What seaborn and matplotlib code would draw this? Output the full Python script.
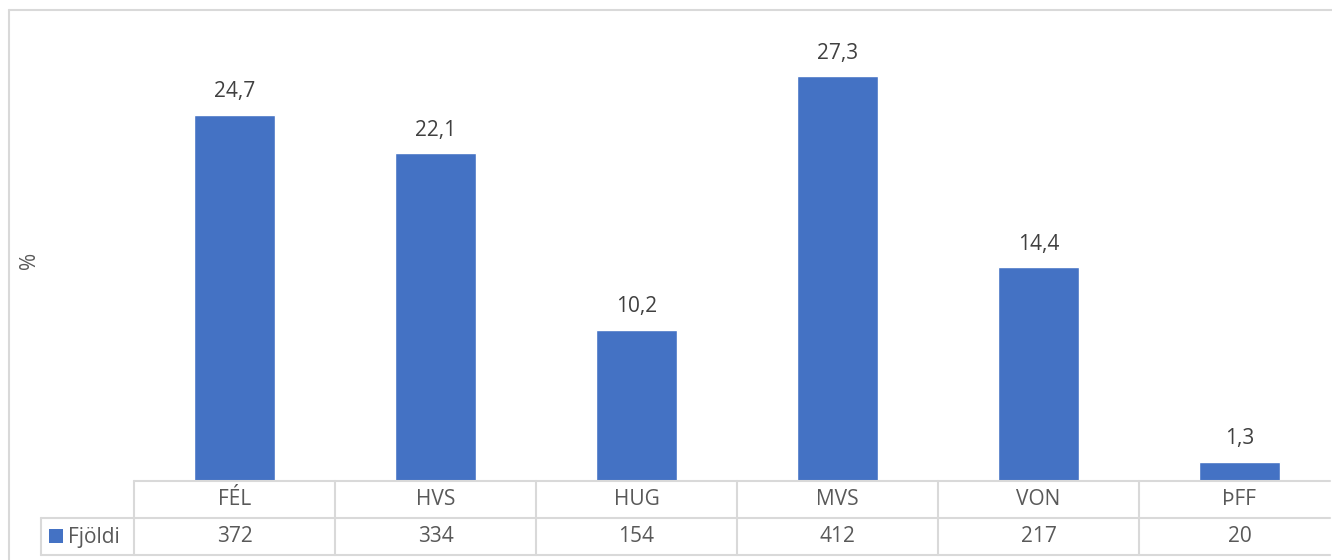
import matplotlib
matplotlib.use("Agg")
import matplotlib.pyplot as plt
import matplotlib.transforms as mtransforms
from matplotlib.lines import Line2D
import seaborn as sns
import pandas as pd

categories = ["FÉL", "HVS", "HUG", "MVS", "VON", "ÞFF"]
percent = [24.7, 22.1, 10.2, 27.3, 14.4, 1.3]
counts = [372, 334, 154, 412, 217, 20]
series_name = "Fjöldi"
y_label = "%"

sns.set_theme(style="white")
plt.rcParams["font.family"] = ["Open Sans", "DejaVu Sans"]

W, H = 1332, 560
fig = plt.figure(figsize=(W / 100, H / 100), dpi=100)
fig.patch.set_edgecolor("none")

# plot area in pixels
px_left, px_right, px_top, px_bottom = 134, 1340, 36, 481
ax = fig.add_axes([px_left / W, 1 - px_bottom / H,
                   (px_right - px_left) / W, (px_bottom - px_top) / H])
ax.patch.set_visible(False)

df = pd.DataFrame({"cat": categories, "pct": percent})
bar_color = "#4472C4"
sns.barplot(data=df, x="cat", y="pct", color=bar_color, width=0.4,
            saturation=1, ax=ax)
ax.set_xlim(-0.5, len(categories) - 0.5)
ax.set_ylim(0, 30)
for s in ax.spines.values():
    s.set_visible(False)
ax.set_xticks([])
ax.set_yticks([])
ax.set_xlabel("")
ax.set_ylabel("")

fs = 15
text_col = "#404040"
for c in ax.containers:
    ax.bar_label(c, labels=[f"{v:.1f}".replace(".", ",") for v in percent],
                 padding=9, fontsize=fs, color=text_col)

# y label
fig.text(29 / W, 1 - 260 / H, y_label, rotation=90, ha="center", va="center",
         fontsize=fs, color="#595959")

# data table below the axis
ax_h = px_bottom - px_top
row_h = 37 / ax_h
trans = mtransforms.blended_transform_factory(ax.transData, ax.transAxes)
grid_col = "#d9d9d9"
lw = 1.5
n = len(categories)
x_end = 5.45  # stop just at the image edge
left_lab = -0.5 - (px_left - 41) / ((px_right - px_left) / n)
kw = dict(color=grid_col, lw=lw, transform=trans, clip_on=False)
ax.plot([-0.5, x_end], [0, 0], **kw)
ax.plot([left_lab, x_end], [-row_h, -row_h], **kw)
ax.plot([left_lab, x_end], [-2 * row_h, -2 * row_h], **kw)
for i in range(n):
    ax.plot([i - 0.5, i - 0.5], [0, -2 * row_h], **kw)
ax.plot([left_lab, left_lab], [-row_h, -2 * row_h], **kw)

tab_col = "#595959"
for i, (cat, cnt) in enumerate(zip(categories, counts)):
    ax.text(i, -0.5 * row_h, cat, transform=trans, ha="center", va="center",
            fontsize=fs, color=tab_col)
    ax.text(i, -1.5 * row_h, str(cnt), transform=trans, ha="center",
            va="center", fontsize=fs, color=tab_col)

# legend key in row label
fig.patches.append(plt.Rectangle((49 / W, 1 - 543 / H), 14 / W, 14 / H,
                                 transform=fig.transFigure,
                                 facecolor=bar_color, edgecolor="none"))
fig.text(68 / W, 1 - 537 / H, series_name, ha="left", va="center",
         fontsize=fs, color=tab_col)

# chart border (top and left edges; right and bottom lie outside the image)
bx, by = 9 / W, 1 - 10 / H
fig.lines.append(Line2D([bx, 1.0], [by, by], transform=fig.transFigure,
                        color=grid_col, lw=1.5))
fig.lines.append(Line2D([bx, bx], [0.0, by], transform=fig.transFigure,
                        color=grid_col, lw=1.5))

fig.savefig("out.png", dpi=100)
